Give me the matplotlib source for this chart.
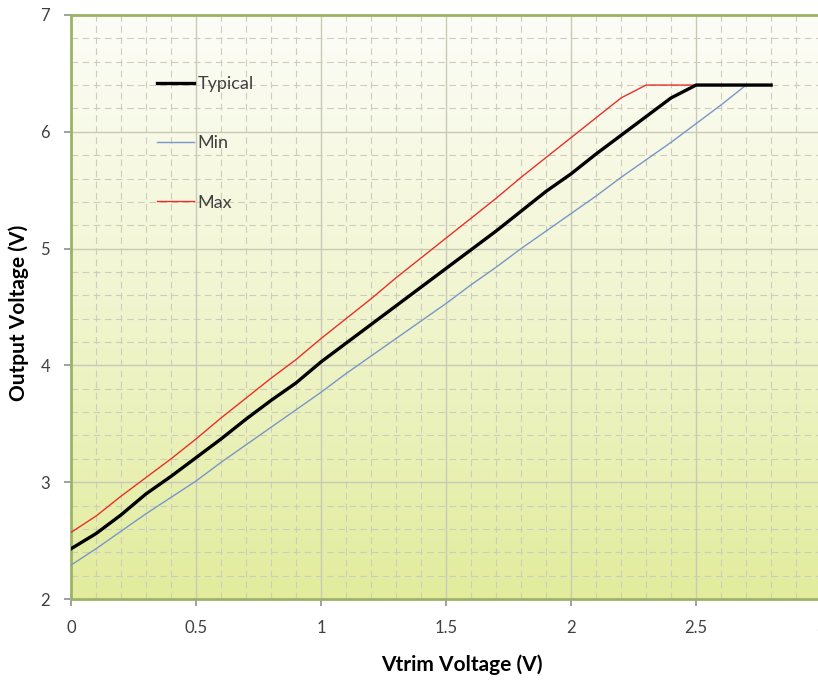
import numpy as np
import matplotlib
matplotlib.use("Agg")
import matplotlib.pyplot as plt
from matplotlib.colors import LinearSegmentedColormap
from matplotlib.ticker import MultipleLocator, FormatStrFormatter

# Vtrim sweep, 0..2.8 V in 0.1 V steps
vtrim = [0.0, 0.1, 0.2, 0.3, 0.4, 0.5, 0.6, 0.7, 0.8, 0.9, 1.0, 1.1, 1.2, 1.3, 1.4,
         1.5, 1.6, 1.7, 1.8, 1.9, 2.0, 2.1, 2.2, 2.3, 2.4, 2.5, 2.6, 2.7, 2.8]
typical = [2.43, 2.56, 2.72, 2.90, 3.05, 3.21, 3.37, 3.54, 3.70, 3.85, 4.03, 4.19, 4.35, 4.51,
           4.67, 4.83, 4.99, 5.15, 5.32, 5.49, 5.64, 5.81, 5.97, 6.13, 6.29, 6.40, 6.40, 6.40, 6.40]
vmin = [2.29, 2.43, 2.58, 2.73, 2.87, 3.01, 3.17, 3.32, 3.47, 3.62, 3.77, 3.93, 4.08, 4.23,
        4.38, 4.53, 4.69, 4.84, 5.00, 5.15, 5.30, 5.45, 5.61, 5.76, 5.91, 6.07, 6.23, 6.40, 6.40]
vmax = [2.57, 2.71, 2.88, 3.04, 3.20, 3.37, 3.55, 3.72, 3.89, 4.05, 4.23, 4.40, 4.57, 4.75,
        4.92, 5.09, 5.26, 5.43, 5.61, 5.78, 5.95, 6.12, 6.29, 6.40, 6.40, 6.40, 6.40, 6.40, 6.40]

plt.rcParams['font.family'] = ['Lato', 'DejaVu Sans']

fig = plt.figure(figsize=(8.18, 6.81), dpi=100)
ax = fig.add_axes([0.0868, 0.1204, 0.917, 0.8576])

# gradient background (white at top -> yellow-green at bottom)
cmap = LinearSegmentedColormap.from_list("bg", ["#e2ec9c", "#f1f5cf", "#fdfdf8"])
grad = np.linspace(0, 1, 256).reshape(-1, 1)
ax.imshow(grad, aspect='auto', cmap=cmap, origin='lower',
          extent=[0, 1, 0, 1], transform=ax.transAxes, zorder=0)

ax.set_xlim(0, 3)
ax.set_ylim(2, 7)
ax.xaxis.set_major_locator(MultipleLocator(0.5))
ax.xaxis.set_minor_locator(MultipleLocator(0.1))
ax.yaxis.set_major_locator(MultipleLocator(1))
ax.yaxis.set_minor_locator(MultipleLocator(0.2))
ax.xaxis.set_major_formatter(FormatStrFormatter('%g'))
ax.yaxis.set_major_formatter(FormatStrFormatter('%g'))

ax.grid(which='major', color='#c9c9b8', lw=1.0, ls='-', zorder=1)
ax.grid(which='minor', color='#cdcdbe', lw=0.8, ls=(0, (6, 4)), zorder=1)
ax.set_axisbelow(True)

ax.plot(vtrim, typical, color='black', lw=2.4, label='Typical', zorder=4)
ax.plot(vtrim, vmin, color='#7a96c8', lw=1.0, label='Min', zorder=3)
ax.plot(vtrim, vmax, color='#e8302a', lw=1.0, label='Max', zorder=3)

leg = ax.legend(loc='upper left', bbox_to_anchor=(0.105, 0.9075), frameon=False,
                fontsize=13, handlelength=2.05, handletextpad=0.2,
                labelspacing=2.39, borderaxespad=0)
for t in leg.get_texts():
    t.set_color('#404040')

for s in ['left', 'bottom', 'top']:
    ax.spines[s].set_color('#9cb466')
    ax.spines[s].set_linewidth(2.0)
ax.spines['right'].set_visible(False)

ax.tick_params(which='major', direction='out', length=5, width=1.2,
               color='#909090', labelcolor='#404040', labelsize=12, pad=10)
ax.tick_params(which='minor', length=0)

ax.set_xlabel('Vtrim Voltage (V)', fontsize=15, fontweight='bold')
ax.set_ylabel('Output Voltage (V)', fontsize=15, fontweight='bold')
ax.xaxis.set_label_coords(0.521, -0.095)
ax.yaxis.set_label_coords(-0.056, 0.49)

fig.savefig('out.png', dpi=100)
